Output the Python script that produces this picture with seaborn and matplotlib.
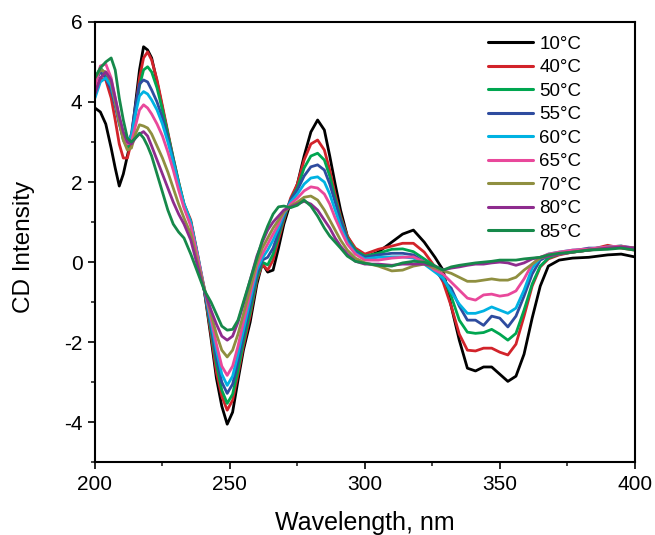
import numpy as np
import pandas as pd
import matplotlib
matplotlib.use("Agg")
import matplotlib.pyplot as plt
import seaborn as sns
from matplotlib.ticker import MultipleLocator

# Wavelength grid (nm)
wavelength = [200, 202, 204, 206, 207.5, 209, 210.5, 212, 213.5, 215,
              216.5, 218, 219.5, 221, 223, 225, 227, 229, 231, 233,
              235.5, 238, 240.5, 243, 245, 247, 249, 251, 253, 255,
              257.5, 260, 262, 264, 266, 268, 270, 272.5, 275, 277.5,
              280, 282.5, 285, 287, 289, 291, 293.5, 296.5, 300, 305,
              310, 314, 318, 322, 326, 329, 332, 335, 338, 341,
              344, 347, 350, 353, 356, 359, 362, 365, 368, 372,
              377, 383, 390, 395, 400]

temps = ["10°C", "40°C", "50°C", "55°C", "60°C", "65°C", "70°C", "80°C", "85°C"]

cd_10 = [3.85, 3.75, 3.45, 2.85, 2.35, 1.9, 2.2, 2.65, 3.1, 3.95,
         4.8, 5.38, 5.3, 5.1, 4.5, 3.85, 3.2, 2.55, 1.95, 1.4,
         1.0, 0.15, -0.7, -1.9, -2.9, -3.6, -4.05, -3.75, -2.95, -2.2,
         -1.5, -0.55, -0.03, -0.25, -0.2, 0.35, 0.95, 1.5, 1.95, 2.65,
         3.25, 3.55, 3.3, 2.65, 1.95, 1.3, 0.65, 0.28, 0.12, 0.25,
         0.5, 0.7, 0.8, 0.5, 0.12, -0.2, -1.1, -1.95, -2.65, -2.72,
         -2.62, -2.62, -2.8, -2.98, -2.85, -2.3, -1.4, -0.6, -0.1, 0.05,
         0.1, 0.12, 0.18, 0.2, 0.13]
cd_40 = [4.25, 4.6, 4.55, 4.1, 3.55, 2.95, 2.6, 2.6, 3.0, 3.8,
         4.6, 5.1, 5.25, 5.05, 4.55, 3.9, 3.25, 2.6, 2.0, 1.45,
         1.05, 0.2, -0.7, -1.8, -2.75, -3.35, -3.7, -3.45, -2.8, -2.1,
         -1.35, -0.45, -0.05, -0.2, 0.05, 0.55, 1.05, 1.6, 1.95, 2.55,
         2.95, 3.05, 2.8, 2.3, 1.7, 1.15, 0.65, 0.35, 0.2, 0.32,
         0.4, 0.47, 0.47, 0.25, -0.12, -0.5, -1.1, -1.8, -2.2, -2.22,
         -2.15, -2.15, -2.25, -2.32, -2.05, -1.35, -0.6, -0.12, 0.08, 0.18,
         0.25, 0.3, 0.42, 0.35, 0.3]
cd_50 = [4.6, 4.85, 4.7, 4.4, 4.0, 3.5, 3.05, 2.85, 3.05, 3.7,
         4.4, 4.8, 4.88, 4.75, 4.35, 3.8, 3.2, 2.6, 2.0, 1.45,
         1.0, 0.15, -0.7, -1.7, -2.55, -3.2, -3.53, -3.3, -2.7, -2.0,
         -1.25, -0.4, 0.0, -0.07, 0.2, 0.65, 1.1, 1.55, 1.85, 2.35,
         2.65, 2.72, 2.55, 2.15, 1.6, 1.1, 0.6, 0.3, 0.15, 0.22,
         0.32, 0.33, 0.26, 0.08, -0.1, -0.35, -0.85, -1.45, -1.75, -1.78,
         -1.76, -1.68, -1.8, -1.95, -1.78, -1.2, -0.55, -0.1, 0.1, 0.2,
         0.25, 0.3, 0.38, 0.4, 0.32]
cd_55 = [4.5, 4.75, 4.6, 4.3, 3.9, 3.45, 3.1, 2.95, 3.2, 3.9,
         4.45, 4.55, 4.5, 4.3, 4.0, 3.6, 3.1, 2.55, 1.95, 1.4,
         0.95, 0.1, -0.7, -1.6, -2.4, -3.0, -3.28, -3.05, -2.5, -1.85,
         -1.1, -0.3, 0.05, 0.12, 0.35, 0.75, 1.15, 1.55, 1.8, 2.15,
         2.38, 2.43, 2.3, 1.95, 1.5, 1.05, 0.55, 0.25, 0.12, 0.18,
         0.22, 0.22, 0.18, 0.0, -0.2, -0.45, -0.65, -1.1, -1.45, -1.45,
         -1.58, -1.35, -1.4, -1.62, -1.35, -0.85, -0.3, 0.05, 0.15, 0.22,
         0.28, 0.35, 0.35, 0.38, 0.35]
cd_60 = [4.1, 4.5, 4.6, 4.4, 4.0, 3.55, 3.2, 3.0, 3.15, 3.7,
         4.15, 4.26, 4.2, 4.05, 3.8, 3.45, 3.0, 2.5, 1.95, 1.45,
         1.0, 0.2, -0.65, -1.5, -2.2, -2.8, -3.08, -2.85, -2.3, -1.7,
         -0.95, -0.2, 0.1, 0.3, 0.55, 0.85, 1.2, 1.5, 1.7, 1.95,
         2.1, 2.13, 2.0, 1.7, 1.3, 0.9, 0.5, 0.22, 0.08, 0.12,
         0.13, 0.13, 0.1, -0.05, -0.25, -0.4, -0.75, -1.05, -1.28, -1.28,
         -1.22, -1.12, -1.2, -1.28, -1.15, -0.7, -0.15, 0.1, 0.2, 0.25,
         0.3, 0.32, 0.38, 0.4, 0.35]
cd_65 = [4.4, 4.9, 4.95, 4.6, 4.1, 3.6, 3.2, 2.95, 3.0, 3.4,
         3.8, 3.93, 3.85, 3.7, 3.45, 3.15, 2.75, 2.3, 1.8, 1.35,
         0.9, 0.15, -0.65, -1.4, -2.05, -2.6, -2.83, -2.6, -2.1, -1.5,
         -0.8, -0.1, 0.2, 0.45, 0.7, 0.95, 1.25, 1.45, 1.6, 1.78,
         1.88, 1.85, 1.7, 1.45, 1.1, 0.8, 0.45, 0.2, 0.05, 0.05,
         0.1, 0.12, 0.13, 0.0, -0.2, -0.3, -0.5, -0.7, -0.9, -0.95,
         -0.82, -0.8, -0.85, -0.82, -0.72, -0.42, -0.05, 0.12, 0.2, 0.25,
         0.3, 0.33, 0.38, 0.4, 0.35]
cd_70 = [4.6, 4.8, 4.75, 4.5, 4.0, 3.5, 3.05, 2.8, 2.85, 3.2,
         3.43, 3.4, 3.35, 3.2, 2.9, 2.6, 2.25, 1.85, 1.45, 1.1,
         0.7, 0.0, -0.65, -1.3, -1.8, -2.2, -2.37, -2.2, -1.8, -1.3,
         -0.65, 0.0, 0.35, 0.6, 0.85, 1.05, 1.25, 1.4, 1.5, 1.62,
         1.65, 1.55, 1.3, 1.05, 0.8, 0.55, 0.3, 0.1, -0.02, -0.1,
         -0.22, -0.2, -0.1, -0.05, -0.15, -0.22, -0.28, -0.38, -0.48, -0.48,
         -0.45, -0.42, -0.45, -0.45, -0.38, -0.2, -0.05, 0.1, 0.15, 0.2,
         0.25, 0.3, 0.35, 0.38, 0.35]
cd_80 = [4.2, 4.6, 4.75, 4.55, 4.1, 3.65, 3.25, 3.0, 2.95, 3.1,
         3.2, 3.26, 3.15, 2.9, 2.55, 2.2, 1.85, 1.5, 1.2, 0.95,
         0.55, -0.1, -0.7, -1.2, -1.55, -1.85, -1.95, -1.85, -1.5, -1.05,
         -0.45, 0.15, 0.5, 0.8, 1.0, 1.15, 1.3, 1.38, 1.45, 1.52,
         1.45, 1.3, 1.05, 0.85, 0.6, 0.4, 0.2, 0.02, -0.05, -0.05,
         -0.08, -0.05, -0.05, -0.05, -0.1, -0.2, -0.15, -0.12, -0.08, -0.05,
         -0.05, -0.02, 0.0, -0.02, -0.08, -0.02, 0.08, 0.12, 0.15, 0.2,
         0.25, 0.3, 0.35, 0.38, 0.35]
cd_85 = [4.6, 4.85, 5.0, 5.1, 4.8, 4.1, 3.55, 3.1, 3.0, 3.1,
         3.22, 3.1, 2.9, 2.65, 2.2, 1.75, 1.3, 0.95, 0.75, 0.6,
         0.2, -0.25, -0.7, -1.0, -1.3, -1.6, -1.7, -1.68, -1.45, -1.0,
         -0.45, 0.1, 0.55, 0.9, 1.2, 1.38, 1.4, 1.36, 1.42, 1.55,
         1.4, 1.15, 0.85, 0.65, 0.5, 0.35, 0.15, 0.02, -0.03, -0.08,
         -0.1, -0.02, 0.02, 0.0, -0.1, -0.2, -0.12, -0.08, -0.05, -0.02,
         0.0, 0.02, 0.05, 0.05, 0.05, 0.08, 0.1, 0.12, 0.18, 0.22,
         0.25, 0.3, 0.32, 0.35, 0.3]

colors = ["#000000", "#d2232a", "#00a650", "#2e4c9f", "#00b2e2",
          "#e9489b", "#8f8f40", "#8e2c8e", "#16894a"]

series = [cd_10, cd_40, cd_50, cd_55, cd_60, cd_65, cd_70, cd_80, cd_85]
df = pd.concat(
    [pd.DataFrame({"Wavelength": wavelength, "CD": vals, "Temperature": t})
     for t, vals in zip(temps, series)],
    ignore_index=True,
)

sns.set_theme(style="ticks")
plt.rcParams["font.family"] = ["Liberation Sans", "DejaVu Sans"]
plt.rcParams["axes.unicode_minus"] = False
plt.rcParams["text.color"] = "black"
plt.rcParams["axes.labelcolor"] = "black"

fig = plt.figure(figsize=(6.55, 5.35), dpi=100)
ax = fig.add_axes([0.145, 0.136, 0.824, 0.823])

sns.lineplot(data=df, x="Wavelength", y="CD", hue="Temperature",
             hue_order=temps, palette=dict(zip(temps, colors)),
             estimator=None, sort=False, linewidth=2.0, ax=ax, legend=True)

ax.set_xlim(200, 400)
ax.set_ylim(-5, 6)
ax.xaxis.set_major_locator(MultipleLocator(50))
ax.xaxis.set_minor_locator(MultipleLocator(25))
ax.yaxis.set_major_locator(MultipleLocator(2))
ax.yaxis.set_minor_locator(MultipleLocator(1))

for sp in ax.spines.values():
    sp.set_linewidth(1.5)
    sp.set_color("black")
ax.tick_params(which="major", direction="out", length=5, width=1.2,
               labelsize=15, colors="black", pad=4)
ax.tick_params(which="minor", direction="out", length=3, width=1.2)
ax.tick_params(top=False, right=False, which="both")

ax.set_xlabel("Wavelength, nm", fontsize=18, va="center", color="black")
ax.set_ylabel("CD Intensity", fontsize=17.5, va="center", color="black")
ax.xaxis.set_label_coords(0.5, -0.139)
ax.yaxis.set_label_coords(-0.131, 0.49)

handles, labels = ax.get_legend_handles_labels()
leg = ax.legend(handles, labels, loc="upper left",
                bbox_to_anchor=(0.728, 0.969), frameon=False,
                fontsize=13.5, handlelength=2.4, handletextpad=0.35,
                labelspacing=0.34, borderpad=0, borderaxespad=0)
for text in leg.get_texts():
    text.set_color("black")
for line in leg.get_lines():
    line.set_linewidth(2.2)

fig.savefig("out.png", dpi=100)
